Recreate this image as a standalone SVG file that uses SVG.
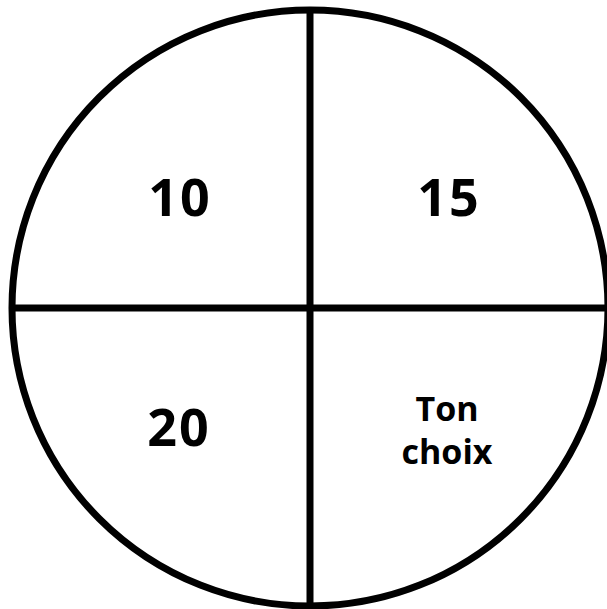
<svg xmlns="http://www.w3.org/2000/svg" width="607" height="609" viewBox="0 0 607 609">
<style>
.ln{stroke:#000;stroke-width:7;fill:none}
.num{font-family:"Open Sans","Noto Sans",sans-serif;font-weight:bold;font-size:52px;text-anchor:middle;fill:#000;letter-spacing:2px}
.lbl{font-family:"Open Sans","Noto Sans",sans-serif;font-weight:bold;font-size:34px;text-anchor:middle;fill:#000}
</style>
<rect width="607" height="609" fill="#fff"/>
<g id="connectors">
<circle class="ln" cx="310" cy="308" r="298"/>
<line class="ln" x1="12" y1="308" x2="608" y2="308"/>
<line class="ln" x1="310" y1="10" x2="310" y2="606"/>
</g>
<g id="q10"><text class="num" x="180" y="216">10</text></g>
<g id="q15"><text class="num" x="449" y="216">15</text></g>
<g id="q20"><text class="num" x="179" y="446">20</text></g>
<g id="qchoix"><text class="lbl" x="447" y="421">Ton</text><text class="lbl" x="447" y="464">choix</text></g>
</svg>
